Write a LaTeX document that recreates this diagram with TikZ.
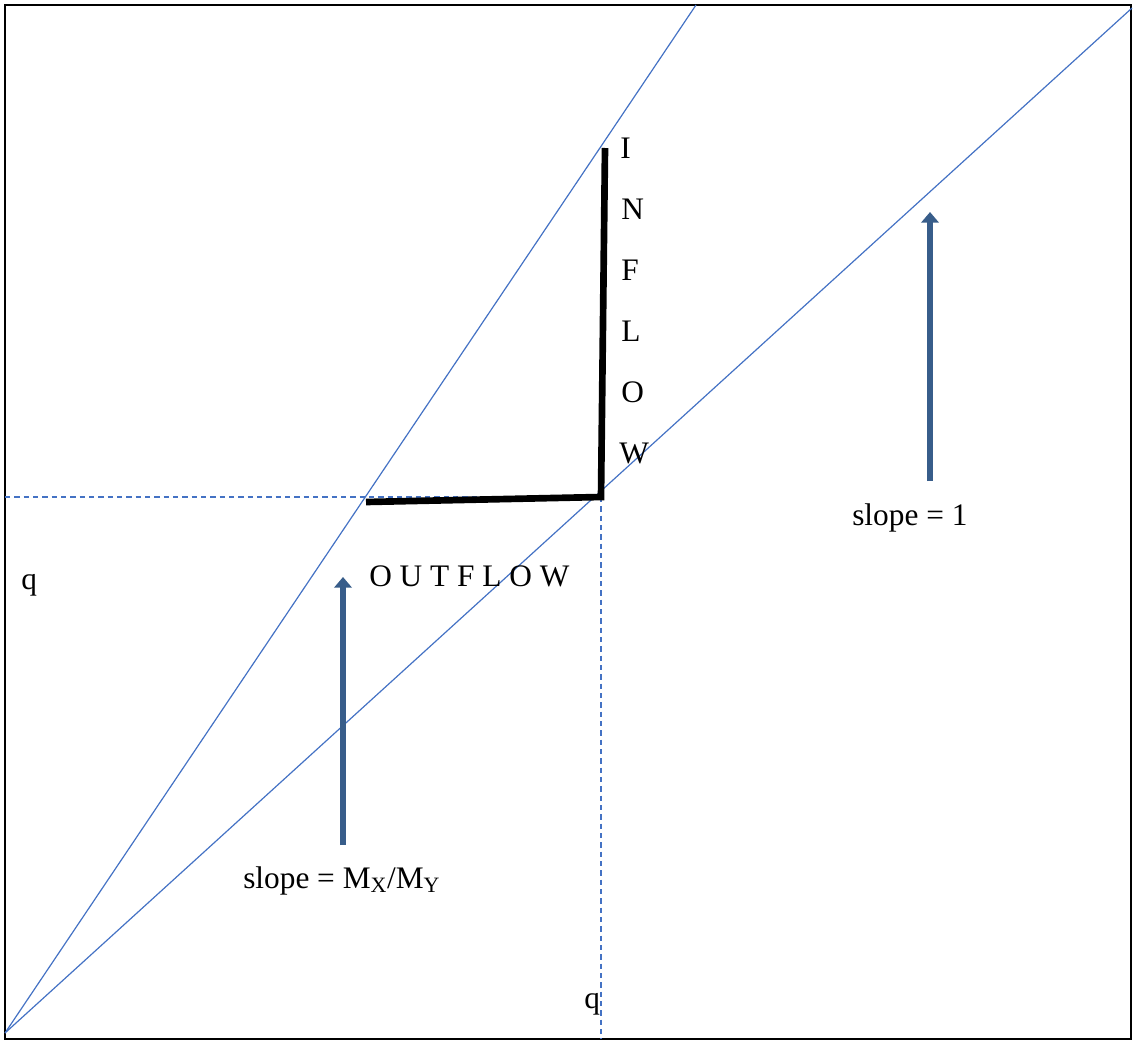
\documentclass[tikz,border=0pt]{standalone}
\usepackage{fontspec}
\setmainfont{Liberation Serif}
\usetikzlibrary{arrows.meta}
\definecolor{linblue}{RGB}{68,114,196}
\definecolor{arrfill}{RGB}{79,116,170}
\definecolor{arrdark}{RGB}{56,93,138}
\tikzset{
  guide/.style={draw=linblue, line width=0.9pt},
  dashguide/.style={draw=linblue, line width=0.9pt, dash pattern=on 4pt off 3pt},
  heavy/.style={draw=black, line width=5pt},
  uparrow/.style={draw=arrdark, line width=5pt, -{Triangle[width=13pt,length=8pt]}},
  lbl/.style={font=\fontsize{23.5}{26}\selectfont, inner sep=0pt, anchor=base west},
}
\begin{document}
\begin{tikzpicture}[x=0.75pt, y=-0.75pt]
\useasboundingbox (0,0) rectangle (1134,1042);
\draw[line width=1.6pt] (5,5) rectangle (1131,1039);
% key points
\coordinate (O) at (5,1033);
\coordinate (A) at (696,5);
\coordinate (B) at (1132,8);
\coordinate (L) at (5,497);
\coordinate (C) at (601,497);
\coordinate (D) at (601,1039);
\coordinate (H1) at (366,502);
\coordinate (V1) at (605,148);
% lines
\draw[guide] (O) -- (A);
\draw[guide] (O) -- (B);
\draw[dashguide] (L) -- (C);
\draw[dashguide] (C) -- (D);
% heavy corner
\draw[heavy, line join=miter] (H1) -- (C) -- (V1);
% arrows
\coordinate (a1s) at (343,845);
\coordinate (a1e) at (343,577);
\coordinate (a2s) at (930,481);
\coordinate (a2e) at (930,212);
\draw[uparrow] (a1s) -- (a1e);
\draw[uparrow] (a2s) -- (a2e);
% texts
\node[lbl] (tI) at (620,158) {I};
\node[lbl] (tN) at (621,219) {N};
\node[lbl] (tF) at (621,280) {F};
\node[lbl] (tL) at (621,341) {L};
\node[lbl] (tO) at (621,402) {O};
\node[lbl] (tW) at (619,463) {W};
\node[lbl] (outflow) at (369,586) {O U T F L O W};
\node[lbl] (q1) at (21,589) {q};
\node[lbl] (q2) at (584,1008) {q};
\node[lbl] (s1) at (852,525) {slope = 1};
\node[lbl] (s2) at (243,888) {slope = M\textsubscript{X}/M\textsubscript{Y}};
\end{tikzpicture}
\end{document}
